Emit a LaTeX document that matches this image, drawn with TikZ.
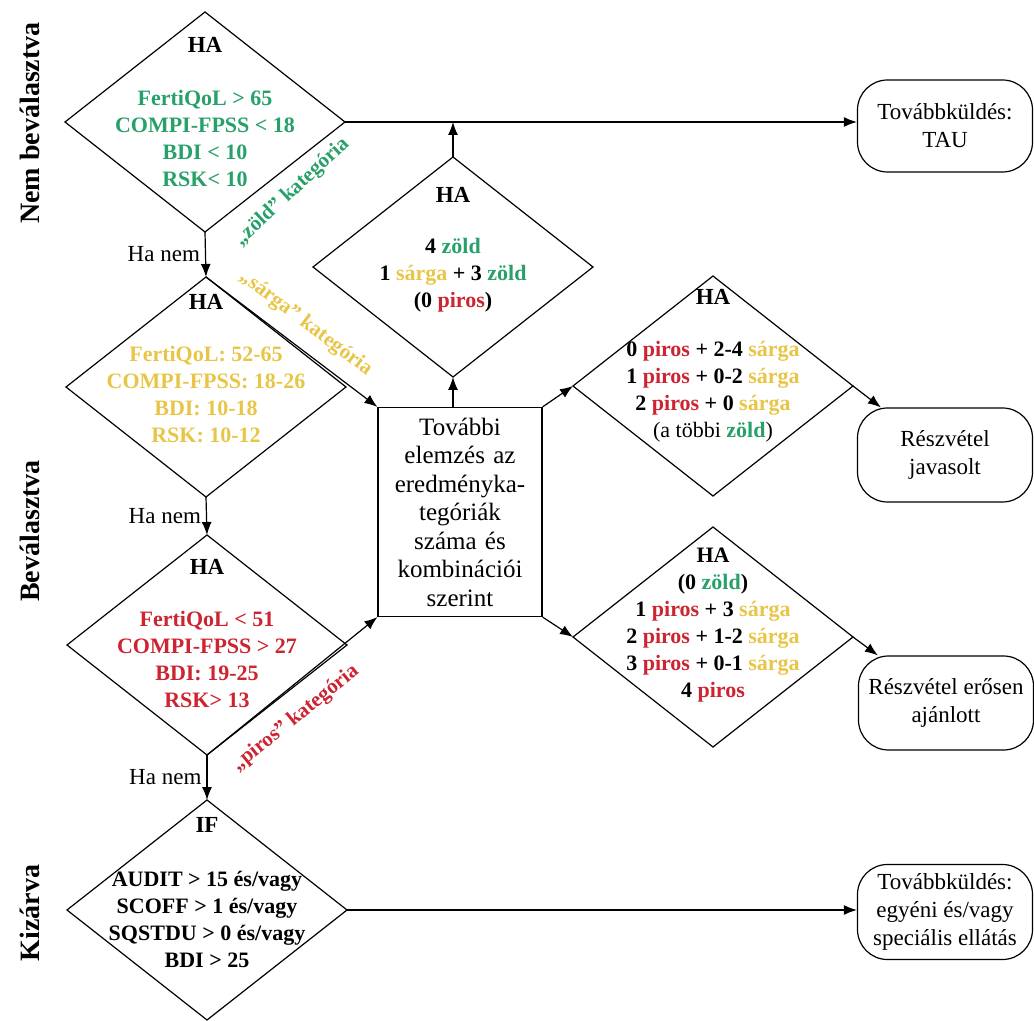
\documentclass[tikz,border=0pt]{standalone}
\usepackage{fontspec}
\setmainfont{Liberation Serif}[BoldFont={Liberation Serif Bold},ItalicFont={Liberation Serif Italic}]
\usepackage{xcolor}
\usepackage{tikz}
\usetikzlibrary{arrows.meta,positioning,calc,shapes.geometric}

\definecolor{zold}{RGB}{40,160,105}
\definecolor{sarga}{RGB}{232,197,70}
\definecolor{piros}{RGB}{204,36,48}
\newcommand{\zld}[1]{\textcolor{zold}{#1}}
\newcommand{\srg}[1]{\textcolor{sarga}{#1}}
\newcommand{\prs}[1]{\textcolor{piros}{#1}}

\begin{document}
\begin{tikzpicture}[x=0.5pt,y=-0.5pt,
  cond/.style={draw,diamond,minimum width=140pt,minimum height=110pt,inner sep=0pt,outer sep=0pt,line width=0.6pt},
  condtxt/.style={font=\bfseries\fontsize{11}{13.5}\selectfont,align=center,inner sep=0pt},
  hatxt/.style={font=\bfseries\fontsize{11.5}{13.5}\selectfont,inner sep=0pt},
  endbox/.style={draw,rounded corners=15pt,minimum width=87.5pt,minimum height=46pt,align=center,
    font=\fontsize{11.5}{14}\selectfont,line width=0.6pt,inner sep=2pt},
  arr/.style={-{Latex[length=6.5pt,width=5pt]},line width=0.6pt},
  hanem/.style={left,font=\fontsize{11.5}{13}\selectfont,inner sep=2.5pt},
  side/.style={rotate=90,font=\bfseries\fontsize{14}{16}\selectfont},
  katlab/.style={font=\bfseries\fontsize{10.5}{12}\selectfont,sloped,inner sep=1.5pt}]

\useasboundingbox (0,0) rectangle (1034,1021);

% side labels
\node[side] (nem) at (30,123) {Nem beválasztva};
\node[side] (bev) at (30,531) {Beválasztva};
\node[side] (kiz) at (30,913) {Kizárva};

% left column of conditions
\node[cond] (d1) at (205,122) {};
\node[cond] (d2) at (206,387) {};
\node[cond] (d3) at (207,645) {};
\node[cond] (d4) at (207,910) {};

\node[hatxt] (ha1) at (205,45) {HA};
\node[condtxt,text=zold] (t1) at (205,138) {FertiQoL > 65\\COMPI-FPSS < 18\\BDI < 10\\RSK< 10};
\node[hatxt] (ha2) at (206,302) {HA};
\node[condtxt,text=sarga] (t2) at (206,395) {FertiQoL: 52-65\\COMPI-FPSS: 18-26\\BDI: 10-18\\RSK: 10-12};
\node[hatxt] (ha3) at (207,567) {HA};
\node[condtxt,text=piros] (t3) at (207,659) {FertiQoL < 51\\COMPI-FPSS > 27\\BDI: 19-25\\RSK> 13};
\node[hatxt] (if4) at (207,825) {IF};
\node[condtxt] (t4) at (207,919) {AUDIT > 15 és/vagy\\SCOFF > 1 és/vagy\\SQSTDU > 0 és/vagy\\BDI > 25};

\node[katlab,rotate=43,text=zold] (kz) at (292,192) {„zöld” kategória};

% middle box
\node[draw,line width=0.6pt,minimum width=82pt,minimum height=104.5pt,text width=78pt,align=center,
  inner sep=0pt,font=\fontsize{12.5}{14.25}\selectfont] (elem) at (460,512)
  {További\\elemzés az\\eredményka-\\tegóriák\\száma és\\kombinációi\\szerint};

% combination conditions
\node[cond] (dm) at (453,267) {};
\node[hatxt] (ham) at (453,195) {HA};
\node[condtxt] (tm) at (453,275) {4 \zld{zöld}\\1 \srg{sárga} + 3 \zld{zöld}\\(0 \prs{piros})};

\node[cond] (dr1) at (713,386) {};
\node[hatxt] (har1) at (713,297) {HA};
\node[condtxt] (tr1) at (713,392) {0 \prs{piros} + 2-4 \srg{sárga}\\1 \prs{piros} + 0-2 \srg{sárga}\\
  2 \prs{piros} + 0 \srg{sárga}\\{\mdseries(a többi} \zld{zöld}{\mdseries)}};

\node[cond] (dr2) at (713,637) {};
\node[condtxt] (tr2) at (713,625) {HA\\(0 \zld{zöld})\\1 \prs{piros} + 3 \srg{sárga}\\
  2 \prs{piros} + 1-2 \srg{sárga}\\3 \prs{piros} + 0-1 \srg{sárga}\\4 \prs{piros}};

% outcomes
\node[endbox] (tau) at (945,126) {Továbbküldés:\\TAU};
\node[endbox,minimum height=47pt] (rjav) at (945,455) {Részvétel\\javasolt};
\node[endbox,minimum height=47pt] (rera) at (946,703) {Részvétel erősen\\ajánlott};
\node[endbox,minimum height=47.5pt] (spec) at (945,912) {Továbbküldés:\\egyéni és/vagy\\speciális ellátás};

% connectors
\draw[arr] (d1.south) -- node[hanem] {Ha nem} (d2.north);
\draw[arr] (d2.south) -- node[hanem] {Ha nem} (d3.north);
\draw[arr] (d3.south) -- node[hanem] {Ha nem} (d4.north);
\draw[arr] (d1.east) -- (d1.east -| tau.west);
\draw[arr] (dm.north) -- (dm.north |- d1.east);
\draw[arr] (d2.north) -- node[katlab,above,text=sarga,yshift=5pt] {„sárga” kategória} (elem.north west);
\draw[arr] (d3.south) -- node[katlab,below,text=piros,pos=0.42,yshift=-7pt] {„piros” kategória} (elem.south west);
\draw[arr] (elem.north -| dm.south) -- (dm.south);
\draw[arr] (elem.north east) -- (dr1.west);
\draw[arr] (dr1.east) -- ([xshift=12pt]rjav.north west);
\draw[arr] (elem.south east) -- (dr2.west);
\draw[arr] (dr2.east) -- ([xshift=10pt]rera.north west);
\draw[arr] (d4.east) -- (d4.east -| spec.west);
\end{tikzpicture}
\end{document}
